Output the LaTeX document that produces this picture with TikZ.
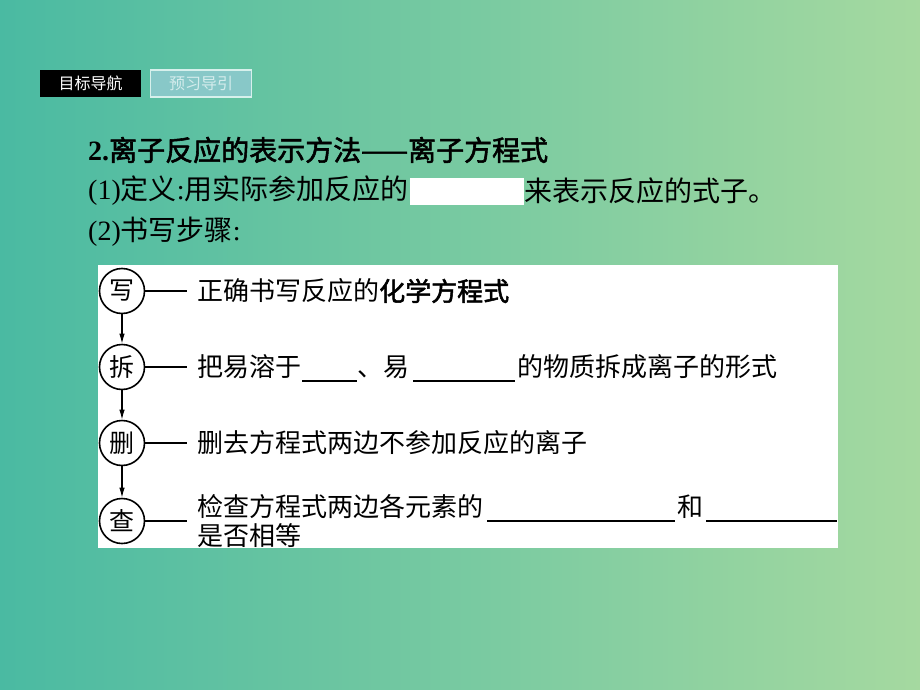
\documentclass[tikz,border=0pt]{standalone}
\usepackage{fontspec}
\setmainfont{Liberation Serif}
\newfontfamily\cjk[AutoFakeBold=2]{Noto Sans CJK SC}
\usetikzlibrary{arrows.meta}
\definecolor{bgleft}{RGB}{74,186,162}
\definecolor{bgright}{RGB}{165,217,160}
\definecolor{tabfill}{RGB}{136,200,200}
\definecolor{tabborder}{RGB}{215,240,236}
\definecolor{tabtext}{RGB}{212,236,236}
\begin{document}
\begin{tikzpicture}[x=1pt,y=-1pt,
  txt/.style={anchor=west,inner sep=0pt,font=\fontsize{28}{30}\selectfont},
  btxt/.style={anchor=west,inner sep=0pt,font=\fontsize{26}{28}\selectfont\cjk},
  stepc/.style={circle,draw,line width=1.6pt,minimum size=45pt,inner sep=0pt,font=\fontsize{25}{25}\selectfont\cjk},
  tab/.style={minimum width=101pt,minimum height=27pt,inner sep=0pt,font=\fontsize{16}{16}\selectfont\cjk},
  blank/.style={line width=1.6pt},
  conn/.style={line width=1.4pt},
  arr/.style={-{Latex[length=10pt,width=5.5pt]},line width=1.1pt}]
\useasboundingbox (0,0) rectangle (920,690);
\fill[left color=bgleft,right color=bgright] (0,0) rectangle (920,690);
% tabs
\node[tab,fill=black,text=white] (tab1) at (90.5,83.5) {目标导航};
\node[tab,fill=tabfill,draw=tabborder,line width=1.2pt,text=tabtext] (tab2) at (201,83.5) {预习导引};
% heading lines
\node[txt] (t1) at (88,150) {\textbf{2.}{\cjk\bfseries 离子反应的表示方法——离子方程式}};
\node[txt] (t2) at (88,191) {(1){\cjk 定义}:{\cjk 用实际参加反应的}};
\node[fill=white,minimum width=114pt,minimum height=27pt,inner sep=0pt,anchor=west] (hole) at (410,191) {};
\node[txt] (t2b) at (524,191) {\cjk 来表示反应的式子。};
\node[txt] (t3) at (88,232) {(2){\cjk 书写步骤}:};
% panel
\node[fill=white,minimum width=740pt,minimum height=283pt,inner sep=0pt] (panel) at (468,406.5) {};
% steps
\node[stepc] (c1) at (122,291) {写};
\node[stepc] (c2) at (122,367) {拆};
\node[stepc] (c3) at (122,443) {删};
\node[stepc] (c4) at (122,521) {查};
\draw[arr] (c1.south) -- (c2.north);
\draw[arr] (c2.south) -- (c3.north);
\draw[arr] (c3.south) -- (c4.north);
\coordinate (e1) at (187,291);
\coordinate (e2) at (187,367);
\coordinate (e3) at (187,443);
\coordinate (e4) at (187,521);
\draw[conn] (c1.east) -- (e1);
\draw[conn] (c2.east) -- (e2);
\draw[conn] (c3.east) -- (e3);
\draw[conn] (c4.east) -- (e4);
% row texts
\node[btxt] (r1) at (197,291) {正确书写反应的{\bfseries 化学方程式}};
\node[btxt] (r2a) at (197,367) {把易溶于};
\coordinate (u1s) at (302,381); \coordinate (u1e) at (357,381);
\draw[blank] (u1s) -- (u1e);
\node[btxt] (r2b) at (357,367) {、易};
\coordinate (u2s) at (413,381); \coordinate (u2e) at (515,381);
\draw[blank] (u2s) -- (u2e);
\node[btxt] (r2c) at (517,367) {的物质拆成离子的形式};
\node[btxt] (r3) at (197,443) {删去方程式两边不参加反应的离子};
\node[btxt] (r4a) at (197,507) {检查方程式两边各元素的};
\coordinate (u3s) at (487,521); \coordinate (u3e) at (675,521);
\draw[blank] (u3s) -- (u3e);
\node[btxt] (r4b) at (677,507) {和};
\coordinate (u4s) at (706,521); \coordinate (u4e) at (837,521);
\draw[blank] (u4s) -- (u4e);
\node[btxt] (r4c) at (197,536) {是否相等};
\end{tikzpicture}
\end{document}
